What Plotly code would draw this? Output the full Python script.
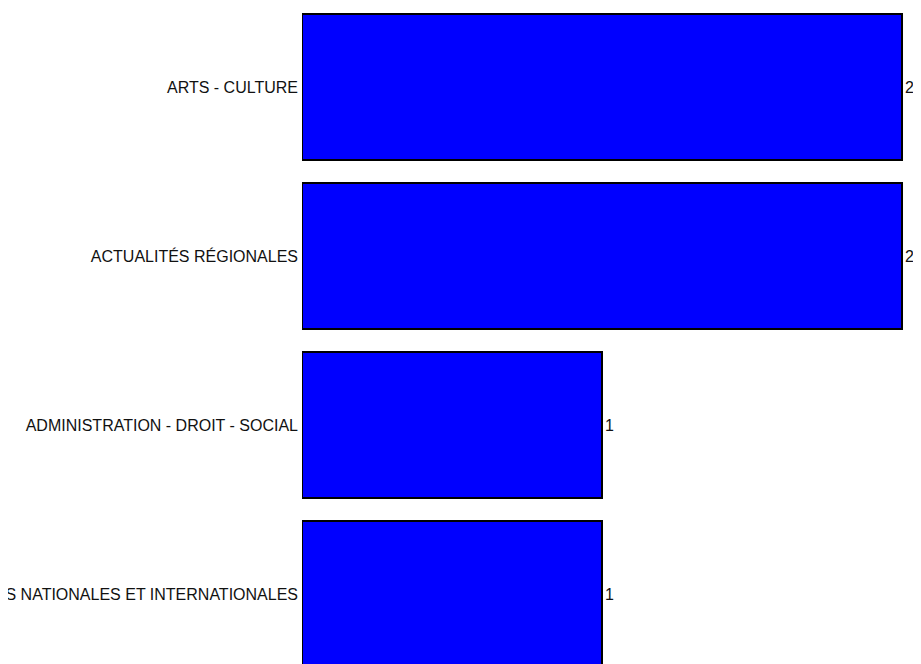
import plotly.graph_objects as go

categories = [
    "ARTS - CULTURE",
    "ACTUALITÉS RÉGIONALES",
    "ADMINISTRATION - DROIT - SOCIAL",
    "ACTUALITÉS NATIONALES ET INTERNATIONALES",
]
values = [2, 2, 1, 1]
value_labels = ["2", "2", "1", "1"]

FONT = "Liberation Sans, Arial, sans-serif"

fig = go.Figure(
    go.Bar(
        x=values,
        y=categories,
        orientation="h",
        text=value_labels,
        textposition="outside",
        cliponaxis=False,
        constraintext="none",
        textfont=dict(family=FONT, size=16, color="#111111"),
        marker=dict(color="#0000FF", line=dict(color="#000000", width=2)),
        hoverinfo="skip",
    )
)

# page body has an 8px default margin, so the figure is sized to fit the rest
fig.update_layout(
    template="none",
    width=913,
    height=656,
    margin=dict(l=294, r=0, t=0, b=0, pad=0),
    paper_bgcolor="white",
    plot_bgcolor="white",
    bargap=0.136,
    showlegend=False,
    font=dict(family=FONT, size=16, color="#111111"),
)
fig.update_xaxes(
    range=[0, 2.0633],
    visible=False,
    showgrid=False,
    zeroline=False,
    automargin=False,
)
fig.update_yaxes(
    type="category",
    categoryorder="array",
    categoryarray=categories,
    range=[3.414, -0.4675],
    showgrid=False,
    zeroline=False,
    showline=False,
    ticks="",
    automargin=False,
    tickfont=dict(family=FONT, size=16, color="#111111"),
    ticklabelstandoff=3,
)

fig.write_html("out.html")
